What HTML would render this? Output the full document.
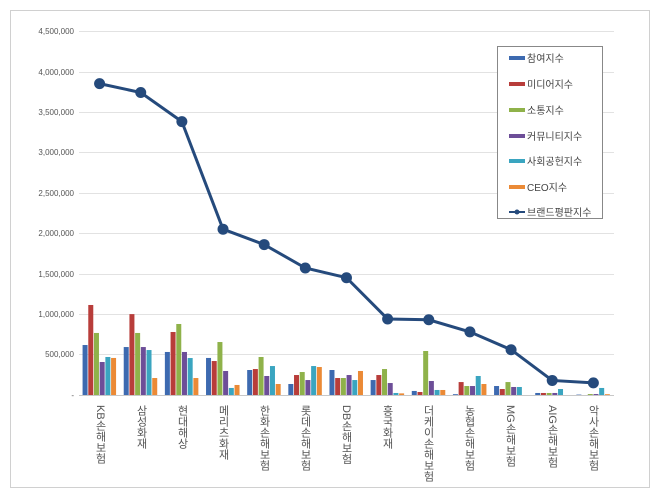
<!DOCTYPE html>
<html><head><meta charset="utf-8"><style>
body{margin:0;background:#fff;}
svg{display:block;font-family:"Liberation Sans","Noto Sans CJK KR",sans-serif;}
</style></head><body>
<svg id="s" width="660" height="496" xmlns="http://www.w3.org/2000/svg">
<rect x="0" y="0" width="660" height="496" fill="#fff"/>
<rect x="10.5" y="10.5" width="639" height="477" fill="#fff" stroke="#d0d0d0"/>
<g stroke="#e2e2e2" stroke-width="1">
<line x1="79" x2="614" y1="31.5" y2="31.5"/><line x1="79" x2="614" y1="72.5" y2="72.5"/>
<line x1="79" x2="614" y1="112.5" y2="112.5"/><line x1="79" x2="614" y1="152.5" y2="152.5"/>
<line x1="79" x2="614" y1="193.5" y2="193.5"/><line x1="79" x2="614" y1="233.5" y2="233.5"/>
<line x1="79" x2="614" y1="274.5" y2="274.5"/><line x1="79" x2="614" y1="314.5" y2="314.5"/>
<line x1="79" x2="614" y1="354.5" y2="354.5"/>
</g>
<line x1="79" x2="614" y1="395.5" y2="395.5" stroke="#c8c8c8"/>
<g font-size="8" fill="#555" text-anchor="end">
<text x="74" y="34">4,500,000</text><text x="74" y="75">4,000,000</text>
<text x="74" y="115">3,500,000</text><text x="74" y="155">3,000,000</text>
<text x="74" y="196">2,500,000</text><text x="74" y="236">2,000,000</text>
<text x="74" y="277">1,500,000</text><text x="74" y="317">1,000,000</text>
<text x="74" y="357">500,000</text><text x="74" y="398">-</text>
</g>
<g id="bars"></g>
<g id="line"></g>
<g font-size="11" fill="#555" style="writing-mode:vertical-rl;text-orientation:mixed">
<text x="100" y="405">KB손해보험</text>
<text x="141" y="405">삼성화재</text>
<text x="182" y="405">현대해상</text>
<text x="223" y="405">메리츠화재</text>
<text x="264" y="405">한화손해보험</text>
<text x="305" y="405">롯데손해보험</text>
<text x="346" y="405">DB손해보험</text>
<text x="387" y="405">흥국화재</text>
<text x="428" y="405">더케이손해보험</text>
<text x="469" y="405">농협손해보험</text>
<text x="510" y="405">MG손해보험</text>
<text x="552" y="405">AIG손해보험</text>
<text x="593" y="405">악사손해보험</text>
</g>
<rect x="497.5" y="46.5" width="105" height="172" fill="#fff" stroke="#888"/>
<g font-size="10" fill="#444">
<rect x="509" y="56" width="16" height="4" fill="#3d6ab0"/><text x="527" y="62">참여지수</text>
<rect x="509" y="82" width="16" height="4" fill="#b83d3a"/><text x="527" y="88">미디어지수</text>
<rect x="509" y="108" width="16" height="4" fill="#8fb24a"/><text x="527" y="114">소통지수</text>
<rect x="509" y="134" width="16" height="4" fill="#6d4e98"/><text x="527" y="140">커뮤니티지수</text>
<rect x="509" y="159" width="16" height="4" fill="#3aa5c0"/><text x="527" y="165">사회공헌지수</text>
<rect x="509" y="185" width="16" height="4" fill="#eb8a36"/><text x="527" y="191">CEO지수</text>
<line x1="509" x2="525" y1="212" y2="212" stroke="#254a7c" stroke-width="2"/><circle cx="517" cy="212" r="2.5" fill="#254a7c"/><text x="527" y="216">브랜드평판지수</text>
</g>
</svg>
<script>
var d=[[618,1113,767,408,470,458],[593,1000,767,593,556,210],[532,779,878,532,457,210],[458,420,655,297,87,124],[309,321,470,235,358,136],[136,247,284,185,358,346],[309,210,210,247,185,297],[185,247,321,148,25,20],[50,37,544,173,62,62],[10,160,111,111,235,136],[111,74,160,99,99,0],[25,25,25,25,74,0],[5,0,12,12,87,10]];
var L=[3850,3740,3380,2050,1860,1570,1450,940,930,780,560,180,150];
var c=["#3d6ab0","#b83d3a","#8fb24a","#6d4e98","#3aa5c0","#eb8a36"];
var ns="http://www.w3.org/2000/svg",b=document.getElementById("bars"),ln=document.getElementById("line");
function Y(v){return 395-v*40.44/500;}
var pts=[];
for(var i=0;i<13;i++){var cx=79+41.15*(i+0.5);
for(var j=0;j<6;j++){if(!d[i][j])continue;var r=document.createElementNS(ns,"rect");var y=Y(d[i][j]);
r.setAttribute("x",cx-17+j*5.7);r.setAttribute("width",5);r.setAttribute("y",y);r.setAttribute("height",395-y);r.setAttribute("fill",c[j]);b.appendChild(r);}
pts.push(cx+","+Y(L[i]));}
var p=document.createElementNS(ns,"polyline");p.setAttribute("points",pts.join(" "));p.setAttribute("fill","none");p.setAttribute("stroke","#254a7c");p.setAttribute("stroke-width","3");ln.appendChild(p);
pts.forEach(function(q){var a=q.split(","),e=document.createElementNS(ns,"circle");e.setAttribute("cx",a[0]);e.setAttribute("cy",a[1]);e.setAttribute("r","5.5");e.setAttribute("fill","#254a7c");ln.appendChild(e);});
</script>
</body></html>
